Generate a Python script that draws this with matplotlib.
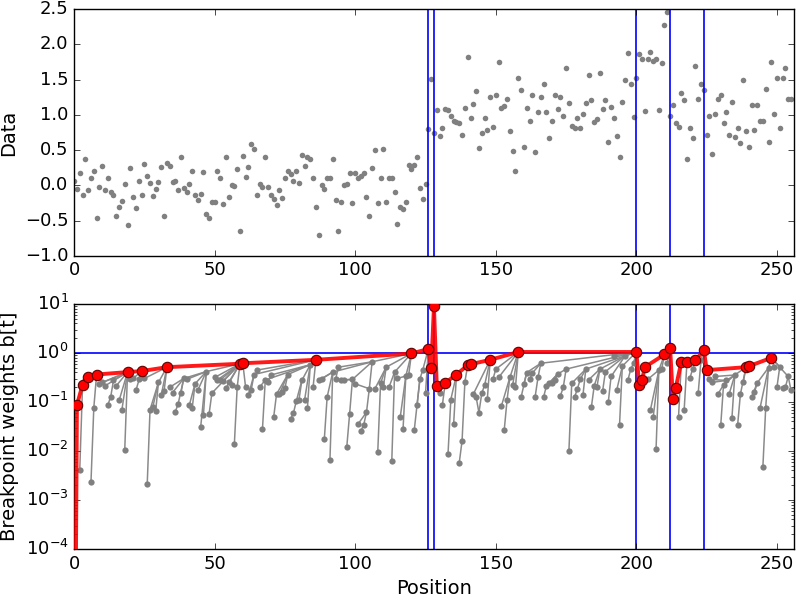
import numpy as np
import matplotlib
matplotlib.use("Agg")
import matplotlib.pyplot as plt

plt.style.use("classic")
plt.rcParams["font.size"] = 13

# observed signal, one value per position 0..255
data = [
    0.07, -0.05, 0.17, -0.14, 0.38, -0.07, 0.10, 0.20, -0.46, -0.02,
    0.28, -0.07, 0.10, -0.09, -0.13, -0.43, -0.31, -0.22, 0.02, -0.56,
    0.25, -0.16, -0.32, 0.07, -0.13, 0.30, 0.14, 0.03, -0.15, -0.05,
    0.05, 0.26, -0.43, 0.32, 0.28, 0.05, 0.07, -0.06, 0.40, -0.04,
    -0.10, 0.02, 0.21, -0.14, -0.20, -0.12, 0.19, -0.41, -0.46, -0.23,
    -0.23, 0.20, 0.11, -0.26, 0.40, -0.16, 0.00, -0.01, 0.23, -0.65,
    0.42, 0.12, 0.26, 0.59, 0.51, -0.13, 0.02, -0.02, 0.40, -0.02,
    -0.14, -0.19, -0.28, -0.07, -0.18, 0.10, 0.21, 0.16, 0.06, 0.20,
    0.03, 0.43, 0.28, 0.40, 0.38, 0.10, -0.30, -0.70, 0.00, -0.05,
    0.10, 0.11, 0.37, -0.20, -0.65, -0.24, 0.01, 0.02, 0.17, -0.25,
    0.17, 0.10, 0.13, 0.17, -0.16, -0.43, 0.25, 0.50, -0.25, 0.11,
    0.51, -0.23, 0.10, 0.10, -0.09, -0.55, -0.31, -0.34, -0.23, 0.29,
    0.24, 0.29, 0.40, -0.04, -0.19, 0.02, 0.80, 1.51, 0.75, 1.07,
    0.70, 0.81, 1.09, 1.07, 0.98, 0.92, 0.90, 0.89, 0.72, 1.10,
    1.82, 0.96, 1.16, 1.34, 0.53, 0.74, 0.96, 0.79, 1.25, 0.83,
    1.29, 1.75, 1.10, 1.13, 1.22, 0.77, 0.49, 0.20, 1.53, 1.35,
    0.55, 1.10, 0.92, 1.28, 0.47, 1.04, 1.26, 1.44, 1.04, 0.68,
    0.92, 1.29, 1.08, 1.25, 0.99, 1.67, 1.17, 0.85, 0.82, 0.96,
    0.81, 1.01, 1.17, 1.56, 1.21, 0.90, 0.94, 1.60, 1.09, 1.21,
    0.62, 1.11, 0.95, 0.70, 0.41, 1.18, 1.50, 1.88, 1.44, 0.97,
    1.53, 1.87, 1.79, 1.06, 1.79, 1.89, 1.77, 1.80, 1.07, 1.73,
    2.27, 2.46, 0.98, 1.14, 0.89, 0.83, 1.31, 1.21, 0.37, 0.82,
    0.67, 1.69, 1.22, 1.44, 1.36, 0.71, 0.99, 0.44, 1.01, 1.22,
    1.28, 0.89, 1.04, 0.71, 1.18, 0.69, 0.82, 0.60, 1.50, 0.77,
    0.55, 1.14, 0.79, 1.14, 0.92, 0.92, 1.37, 0.62, 1.75, 1.02,
    1.53, 0.81, 1.53, 1.67, 1.23, 1.23,
]

# log10 of the breakpoint weight at each position
log_b = [
    -10, -1.06, -2.39, -0.65, -0.55, -0.50, -2.63, -1.12, -0.44, -0.63,
    -0.60, -0.67, -1.06, -0.90, -0.56, -0.67, -0.97, -1.16, -1.99, -0.39,
    -0.54, -0.52, -0.76, -0.54, -0.37, -0.52, -2.68, -1.16, -1.10, -1.19,
    -0.60, -0.86, -0.78, -0.29, -0.70, -0.81, -1.20, -1.04, -0.81, -0.52,
    -0.54, -1.06, -1.13, -0.63, -0.76, -1.52, -1.27, -0.38, -1.25, -0.82,
    -0.50, -0.55, -0.55, -0.57, -0.72, -0.60, -0.65, -1.86, -0.70, -0.22,
    -0.21, -0.70, -0.86, -0.75, -0.44, -0.35, -0.70, -1.55, -0.55, -0.60,
    -0.45, -1.30, -0.84, -0.84, -0.80, -0.71, -0.44, -1.35, -1.23, -0.99,
    -0.95, -0.56, -0.95, -1.12, -0.24, -0.70, -0.14, -0.56, -0.53, -1.76,
    -0.90, -2.18, -0.39, -0.54, -0.29, -0.55, -0.55, -1.91, -1.24, -0.54,
    -0.63, -1.45, -1.59, -1.47, -1.21, -0.73, -0.18, -0.73, -2.03, -0.62,
    -0.69, -0.29, -0.70, -2.20, -0.39, -0.52, -1.31, -1.55, -0.47, -0.45,
    -0.01, -1.57, -1.06, -0.53, -0.35, -0.82, 0.08, -0.31, 0.95, -0.67,
    -0.81, -1.06, -0.61, -2.06, -0.95, -1.45, -0.44, -2.24, -1.79, -0.59,
    -0.25, -0.23, -0.84, -0.90, -1.22, -0.82, -0.66, -0.93, -0.14, -0.53,
    -0.33, -0.50, -1.08, -1.57, -0.96, -0.50, -0.65, -0.70, 0.02, -0.90,
    -0.63, -0.40, -0.54, -0.41, -0.89, -0.50, -0.21, -0.90, -0.67, -0.62,
    -0.61, -0.55, -0.43, -0.87, -0.70, -0.33, -2.00, -0.62, -0.90, -0.74,
    -0.54, -0.86, -0.33, -0.55, -1.10, -0.67, -0.69, -0.33, -0.77, -0.38,
    -1.01, -0.48, -0.06, -0.76, -1.48, -0.27, -0.06, -0.55, -0.33, -0.21,
    0.02, -0.66, -0.56, -0.29, -0.54, -1.16, -1.30, -1.96, -0.35, -0.33,
    -0.03, -0.20, 0.10, -0.93, -0.71, -1.30, -0.18, -1.16, -0.18, -0.52,
    -0.33, -0.15, -0.81, -0.14, 0.06, -0.35, -0.54, -0.60, -0.48, -0.84,
    -1.48, -0.65, -0.56, -0.84, -1.32, -0.45, -1.48, -0.84, -0.60, -0.29,
    -0.27, -0.90, -0.80, -0.61, -1.12, -2.32, -1.12, -0.30, -0.10, -0.28,
    -0.70, -0.28, -0.72, -0.70, -0.48, -0.76,
]

# position each grey point links to (-1: point lies on the red path)
parent = [
    -1, -1, 3, -1, 5, -1, 7, 8, -1, 19,
    19, 19, 13, 14, 19, 19, 19, 19, 19, -1,
    19, 24, 24, 24, -1, 33, 27, 30, 30, 30,
    33, 33, 33, -1, 39, 39, 37, 39, 39, 47,
    47, 43, 43, 47, 47, 47, 47, 59, 49, 59,
    59, 59, 59, 59, 59, 59, 58, 58, 59, -1,
    -1, 60, 64, 64, 86, 86, 68, 68, 84, 70,
    84, 72, 76, 76, 75, 76, 84, 78, 79, 81,
    81, 84, 84, 84, 86, 86, -1, 92, 92, 90,
    92, 92, 106, 94, 106, 99, 99, 98, 99, 106,
    105, 104, 103, 104, 105, 106, 120, 111, 109, 111,
    111, 120, 114, 114, 120, 118, 118, 118, 120, 120,
    -1, 123, 123, 124, 126, 126, -1, -1, -1, -1,
    132, 132, -1, 134, 136, 136, -1, 138, 139, 140,
    -1, -1, 148, 144, 145, 146, 148, 148, -1, 150,
    158, 158, 155, 154, 155, 158, 158, 158, -1, 161,
    161, 166, 163, 166, 165, 166, 200, 168, 172, 172,
    172, 172, 175, 174, 175, 200, 177, 182, 179, 180,
    182, 182, 200, 187, 185, 187, 187, 196, 189, 196,
    191, 196, 200, 195, 195, 200, 200, 198, 199, 200,
    -1, -1, -1, -1, 208, 208, 208, 208, 210, 210,
    -1, 212, -1, -1, -1, 216, -1, 218, -1, 220,
    221, -1, 223, 224, -1, -1, 232, 232, 235, 231,
    231, 235, 235, 235, 235, 239, 237, 239, 239, -1,
    -1, 243, 243, 247, 247, 246, 247, 248, -1, 248,
    251, 248, 253, 254, 248, 254,
]

# optimal back-tracked path
red_path = [0, 1, 3, 5, 8, 19, 24, 33, 59, 60, 86, 120, 126, 127, 128, 129,
            132, 136, 140, 141, 148, 158, 200, 201, 202, 203, 210, 212, 213,
            214, 216, 218, 221, 224, 225, 239, 240, 248]

breakpoints = [126, 128, 200, 212, 224]

pos = np.arange(len(data))
b = 10.0 ** np.array(log_b)

fig = plt.figure(figsize=(7.97, 5.98), dpi=100, facecolor="white")
ax1 = fig.add_axes([0.093, 0.572, 0.903, 0.4126])
ax2 = fig.add_axes([0.093, 0.082, 0.903, 0.4097])

# top: data
ax1.plot(pos, data, "o", color="gray", mec="none", ms=4)
for x in breakpoints:
    ax1.axvline(x, color="b", lw=1.2)
ax1.set_xlim(0, 256)
ax1.set_ylim(-1.0, 2.5)
ax1.set_ylabel("Data", fontsize=14)

# bottom: breakpoint weights
for t, p in enumerate(parent):
    if p >= 0:
        ax2.plot([t, p], [b[t], b[p]], "-", color="#8a8a8a", lw=1.1, zorder=2)
ax2.plot(pos[1:], b[1:], "o", color="gray", mec="none", ms=4.5, zorder=3)
ax2.plot(pos[red_path], b[red_path], "-", color="red", lw=2.8, alpha=0.9,
         zorder=4)
ax2.plot(pos[red_path[1:]], b[red_path[1:]], "o", mfc="red", mec="#600000",
         mew=0.8, ms=7.5, zorder=5)
for x in breakpoints:
    ax2.axvline(x, color="b", lw=1.2, zorder=1)
ax2.axhline(1.0, color="b", lw=1.2, zorder=1)
ax2.set_yscale("log")
ax2.set_xlim(0, 256)
ax2.set_ylim(1e-4, 1e1)
ax2.set_xlabel("Position", fontsize=14)
ax2.set_ylabel("Breakpoint weights b[t]", fontsize=14)

fig.savefig("out.png", dpi=100, facecolor="white")
